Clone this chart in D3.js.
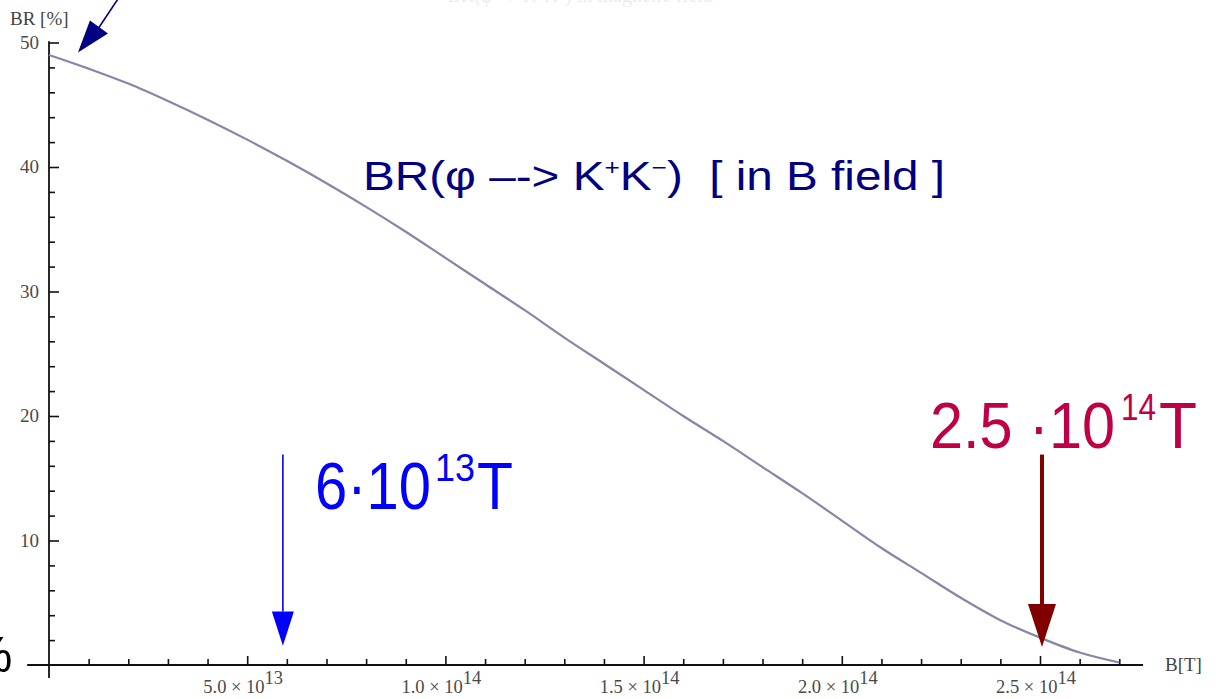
<!DOCTYPE html>
<html>
<head>
<meta charset="utf-8">
<script src="https://cdn.jsdelivr.net/npm/d3@7/dist/d3.min.js"></script>
<style>
  html, body { margin: 0; padding: 0; background: #fff; overflow: hidden; }
  svg { display: block; }
</style>
</head>
<body>
<svg id="chart" width="1216" height="699"></svg>
<script>
// ---- data (B in tesla, BR in percent) ----
const fieldB = [0, 1e13, 2e13, 3e13, 4e13, 5e13, 6e13, 7e13, 8e13, 9e13, 1e14,
  1.1e14, 1.2e14, 1.3e14, 1.4e14, 1.5e14, 1.6e14, 1.7e14, 1.8e14, 1.9e14, 2e14,
  2.1e14, 2.2e14, 2.3e14, 2.4e14, 2.5e14, 2.6e14, 2.7e14];
const branchingRatio = [49.0, 47.9, 46.7, 45.3, 43.8, 42.2, 40.5, 38.7, 36.8, 34.8, 32.7,
  30.6, 28.5, 26.3, 24.2, 22.1, 20.0, 18.0, 15.9, 13.8, 11.6,
  9.4, 7.4, 5.4, 3.6, 2.2, 1.0, 0.2];
const xMajorTicks = [5e13, 1e14, 1.5e14, 2e14, 2.5e14];
const xMajorLabels = [["5.0", "13"], ["1.0", "14"], ["1.5", "14"], ["2.0", "14"], ["2.5", "14"]];
const yMajorTicks = [10, 20, 30, 40, 50];
const yTickLabels = ["10", "20", "30", "40", "50"];
const markerFields = [5.9e13, 2.5e14];

const svg = d3.select("#chart");
const x = d3.scaleLinear().domain([0, 2.5e14]).range([49, 1040]);
const y = d3.scaleLinear().domain([0, 50]).range([665, 42.5]);

// faint, cut-off title at the top
svg.append("text").attr("x", 580).attr("y", 2).attr("text-anchor", "middle")
  .attr("font-family", "Liberation Serif").attr("font-size", 20).attr("fill", "#ececec")
  .text("BR(φ → K⁺K⁻) in magnetic field");

// cut-off "%" at left edge
svg.append("text").attr("x", -32).attr("y", 672)
  .attr("font-family", "Liberation Sans").attr("font-size", 50).attr("fill", "#000").text("%");

// ---- axes ----
const axisG = svg.append("g");
const xMinor = d3.range(1, 28).map(i => i * 1e13).filter(v => Math.round(v / 1e13) % 5 !== 0);
const yMinor = d3.range(2, 50, 2).filter(v => v % 10 !== 0);

const xAxisMajor = d3.axisBottom(x).tickValues(xMajorTicks).tickSize(-9).tickFormat("");
const xAxisMinor = d3.axisBottom(x).tickValues(xMinor).tickSize(-6).tickFormat("");
const yAxisMajor = d3.axisLeft(y).tickValues(yMajorTicks).tickSize(-10).tickFormat("");
const yAxisMinor = d3.axisLeft(y).tickValues(yMinor).tickSize(-6).tickFormat("");

[[xAxisMajor, `translate(0,${y(0)})`], [xAxisMinor, `translate(0,${y(0)})`],
 [yAxisMajor, `translate(${x(0)},0)`], [yAxisMinor, `translate(${x(0)},0)`]].forEach(([ax, tr]) => {
  const g = axisG.append("g").attr("transform", tr).call(ax);
  g.select(".domain").remove();
  g.selectAll("line").attr("stroke", "#111").attr("stroke-width", 1.6);
});

axisG.append("line").attr("x1", x(-0.55e13)).attr("x2", x(2.76e14))
  .attr("y1", y(0)).attr("y2", y(0)).attr("stroke", "#111").attr("stroke-width", 1.8);
axisG.append("line").attr("x1", x(0)).attr("x2", x(0))
  .attr("y1", y(-1.05)).attr("y2", y(50.1)).attr("stroke", "#111").attr("stroke-width", 1.8);

// y tick labels
axisG.selectAll("text.ylab").data(yMajorTicks).join("text")
  .attr("class", "ylab")
  .attr("x", 39).attr("y", d => y(d) + 6)
  .attr("text-anchor", "end")
  .attr("font-family", "Liberation Serif").attr("font-size", 19).attr("fill", "#4a4a4a")
  .text((d, i) => yTickLabels[i]);

// x tick labels with superscript exponents
const xl = axisG.selectAll("text.xlab").data(xMajorTicks).join("text")
  .attr("class", "xlab")
  .attr("x", d => x(d) - 4).attr("y", 693)
  .attr("text-anchor", "middle")
  .attr("font-family", "Liberation Serif").attr("font-size", 18.5).attr("fill", "#4a4a4a");
xl.append("tspan").text((d, i) => xMajorLabels[i][0] + " × 10");
xl.append("tspan").attr("dy", -9).text((d, i) => xMajorLabels[i][1]);

// axis labels
svg.append("text").attr("x", 10).attr("y", 25)
  .attr("font-family", "Liberation Serif").attr("font-size", 19).attr("fill", "#444").text("BR [%]");
svg.append("text").attr("x", 1165).attr("y", 671)
  .attr("font-family", "Liberation Serif").attr("font-size", 19).attr("fill", "#444").text("B[T]");

// ---- curve ----
const pts = fieldB.map((b, i) => [b, branchingRatio[i]]);
svg.append("path").datum(pts)
  .attr("d", d3.line().x(d => x(d[0])).y(d => y(d[1])).curve(d3.curveMonotoneX))
  .attr("fill", "none").attr("stroke", "#8686a6").attr("stroke-width", 2.2);

// ---- annotations ----
// top-left navy arrow
const tipX = x(0.73e13), tipY = y(49.2);
svg.append("line").attr("x1", tipX + 41).attr("y1", tipY - 55)
  .attr("x2", tipX + 21).attr("y2", tipY - 25).attr("stroke", "#000080").attr("stroke-width", 1.6);
svg.append("path")
  .attr("d", `M${tipX},${tipY} L${tipX + 12},${tipY - 32} L${tipX + 30},${tipY - 19} Z`)
  .attr("fill", "#000080");

// blue arrow at 6e13
const bx = x(markerFields[0]);
svg.append("line").attr("x1", bx).attr("x2", bx).attr("y1", y(16.9)).attr("y2", y(4.3))
  .attr("stroke", "#0000ff").attr("stroke-width", 1.6);
svg.append("path")
  .attr("d", `M${bx - 11},${y(4.3)} L${bx + 11},${y(4.3)} L${bx},${y(1.55)} Z`)
  .attr("fill", "#0000ff");

// dark red arrow at 2.5e14
const rx = x(markerFields[1]) + 2;
svg.append("line").attr("x1", rx).attr("x2", rx).attr("y1", y(16.9)).attr("y2", y(4.9))
  .attr("stroke", "#800000").attr("stroke-width", 4);
svg.append("path")
  .attr("d", `M${rx - 14},${y(4.9)} L${rx + 14},${y(4.9)} L${rx},${y(1.45)} Z`)
  .attr("fill", "#800000");

// helper for fitted text pieces
function piece(txt, px, py, size, len, color) {
  return svg.append("text").attr("x", px).attr("y", py)
    .attr("font-family", "Liberation Sans").attr("font-size", size).attr("fill", color)
    .attr("textLength", len).attr("lengthAdjust", "spacingAndGlyphs").text(txt);
}

// main annotation text
const t1 = svg.append("text").attr("x", 363).attr("y", 190)
  .attr("font-family", "Liberation Sans").attr("font-size", 40).attr("fill", "#000080")
  .attr("textLength", 582).attr("lengthAdjust", "spacingAndGlyphs");
t1.append("tspan").text("BR(φ –-> K");
t1.append("tspan").attr("dy", -15).attr("font-size", 22).text("+");
t1.append("tspan").attr("dy", 15).text("K");
t1.append("tspan").attr("dy", -15).attr("font-size", 22).text("−");
t1.append("tspan").attr("dy", 15).text(")\u00A0\u00A0[ in B field ]");

// 6·10^13 T
piece("6·10", 315, 509, 66, 116, "#0000ff");
piece("13", 435, 481, 39, 40, "#0000ff");
piece("T", 477, 509, 66, 36, "#0000ff");

// 2.5·10^14 T
piece("2.5 ·10", 930, 448, 64, 185, "#bf0046");
piece("14", 1121, 420, 37, 35, "#bf0046");
piece("T", 1159, 448, 64, 38, "#bf0046");
</script>
</body>
</html>
